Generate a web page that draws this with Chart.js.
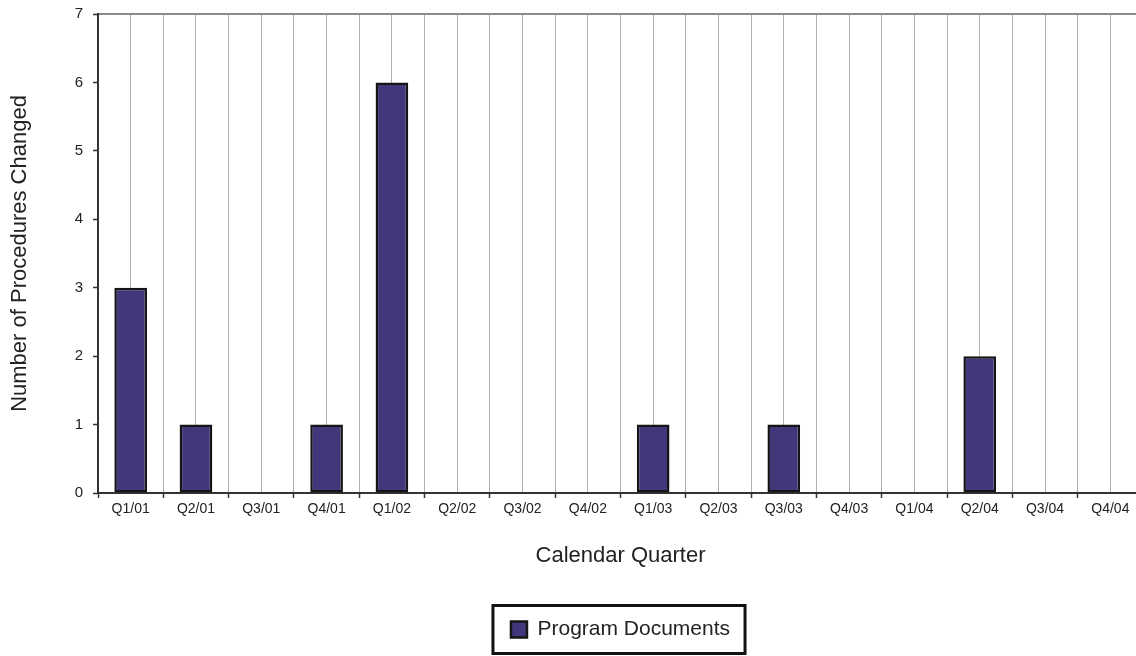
<!DOCTYPE html>
<html>
<head>
<meta charset="utf-8">
<script src="https://cdn.jsdelivr.net/npm/chart.js@4"></script>
<style>
  html, body { margin: 0; padding: 0; background: #fff; overflow: hidden; }
  #wrap { width: 1150px; height: 656px; }
</style>
</head>
<body>
<div id="wrap"><canvas id="chart" width="1150" height="656"></canvas></div>
<script>
const quarters = ['Q1/01', 'Q2/01', 'Q3/01', 'Q4/01', 'Q1/02', 'Q2/02', 'Q3/02', 'Q4/02',
  'Q1/03', 'Q2/03', 'Q3/03', 'Q4/03', 'Q1/04', 'Q2/04', 'Q3/04', 'Q4/04'];
const programDocuments = [3, 1, 0, 1, 6, 0, 0, 0, 1, 0, 1, 0, 0, 2, 0, 0];
const yMin = 0;
const yMax = 7;
const yStep = 1;

const FONT = "'Liberation Sans', Arial, sans-serif";
const gridColor = '#b8abab';

// box round the legend, like the old Excel one
const legendBorder = {
  id: 'legendBorder',
  afterDraw(chart) {
    const box = chart.legend && chart.legend.legendHitBoxes[0];
    if (!box) return;
    const ctx = chart.ctx;
    const cy = box.top + box.height / 2;
    ctx.save();
    ctx.strokeStyle = '#111';
    ctx.lineWidth = 3;
    ctx.strokeRect(box.left - 18, cy - 24, box.width + 33, 48);
    ctx.restore();
  }
};

new Chart(document.getElementById('chart'), {
  type: 'bar',
  data: {
    labels: quarters,
    datasets: [{
      label: 'Program Documents',
      data: programDocuments,
      backgroundColor: '#41377b',
      borderColor: '#151515',
      borderWidth: 2.5,
      borderSkipped: false,
      barPercentage: 0.5,
      categoryPercentage: 1,
      xAxisID: 'x',
    }],
  },
  options: {
    responsive: false,
    animation: false,
    layout: { padding: { top: 14, right: 7, left: 0, bottom: 6 } },
    plugins: {
      tooltip: { enabled: false },
      legend: {
        position: 'bottom',
        fullSize: false,
        labels: {
          font: { family: FONT, size: 21 },
          color: '#222',
          boxWidth: 16,
          boxHeight: 16,
          padding: 10,
        },
      },
    },
    scales: {
      x: {
        position: 'bottom',
        offset: true,
        grid: {
          offset: true,
          color: gridColor,
          lineWidth: 1,
          drawTicks: true,
          tickLength: 5,
          tickColor: '#333',
          tickWidth: 1.5,
        },
        border: { display: true, color: '#333', width: 2 },
        ticks: {
          font: { family: FONT, size: 14 },
          color: '#222',
          padding: 3,
          maxRotation: 0,
          autoSkip: false,
        },
        title: {
          display: true,
          text: 'Calendar Quarter',
          font: { family: FONT, size: 22 },
          color: '#222',
          padding: { top: 0, bottom: 40 },
        },
        afterFit(scale) { scale.height = 116; },
      },
      // second axis only for the lines through the middle of each quarter and the top edge
      xMid: {
        position: 'top',
        type: 'category',
        labels: quarters,
        offset: true,
        grid: { offset: false, color: gridColor, lineWidth: 1, drawTicks: false },
        border: { display: true, color: '#8a8a8a', width: 2 },
        ticks: { display: false },
        afterFit(scale) { scale.height = 0; },
      },
      y: {
        min: yMin,
        max: yMax,
        grid: {
          drawOnChartArea: false,
          drawTicks: true,
          tickLength: 5,
          tickColor: '#333',
          tickWidth: 1.5,
        },
        border: { display: true, color: '#333', width: 2 },
        ticks: {
          stepSize: yStep,
          font: { family: FONT, size: 15 },
          color: '#222',
          padding: 10,
        },
        title: {
          display: true,
          text: 'Number of Procedures Changed',
          font: { family: FONT, size: 22 },
          color: '#222',
          padding: { top: 7, bottom: 0 },
        },
        afterFit(scale) {
          scale.width = 98;
          scale.paddingTop = 0;
          scale.paddingBottom = 0;
        },
      },
    },
  },
  plugins: [legendBorder],
});
</script>
</body>
</html>
